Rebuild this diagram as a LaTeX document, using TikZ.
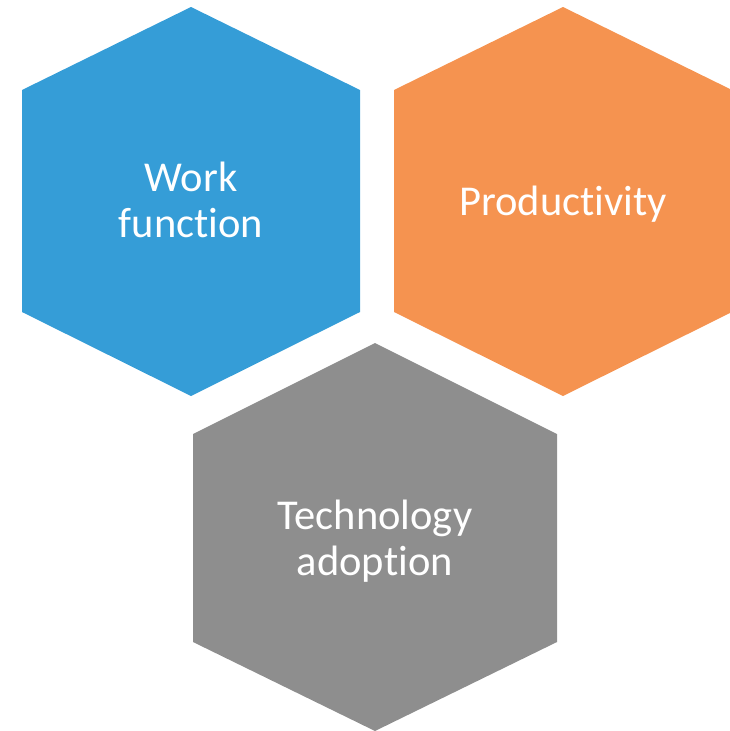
\documentclass[tikz,border=0pt]{standalone}
\usepackage{fontspec}
\setmainfont{Carlito}[RawFeature={-liga;-clig;-dlig}]
\definecolor{hexblue}{HTML}{359DD7}
\definecolor{hexorange}{HTML}{F59350}
\definecolor{hexgray}{HTML}{8E8E8E}
\begin{document}
\begin{tikzpicture}[x=1pt,y=-1pt,
  hexlabel/.style={text=white, align=center, inner sep=0pt,
    font=\fontsize{42.5}{46}\selectfont}]
\useasboundingbox (0,0) rectangle (730,731);
\clip (0,0) rectangle (730,731);
% hexagons
\fill[hexblue]   (191,7) -- (360,90) -- (360,312) -- (191,396) -- (22,312) -- (22,90) -- cycle;
\fill[hexorange] (563,7) -- (732,90) -- (732,312) -- (563,396) -- (394,312) -- (394,90) -- cycle;
\fill[hexgray]   (375,343) -- (557,434) -- (557,642) -- (375,731) -- (193,642) -- (193,434) -- cycle;
% labels
\node[hexlabel] (work) at (191,200) {Work\\func\kern0pt tion};
\node[hexlabel] (prod) at (563,204) {Produc\kern0pt tivity};
\node[hexlabel] (tech) at (375,541) {Technology\\adop\kern0pt tion};
\end{tikzpicture}
\end{document}
